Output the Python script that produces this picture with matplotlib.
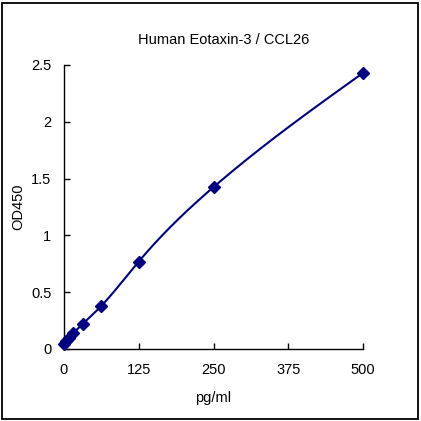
import numpy as np
import matplotlib
matplotlib.use("Agg")
import matplotlib.pyplot as plt
from matplotlib.patches import Rectangle

conc = [0, 3.9, 7.8, 15.6, 31.25, 62.5, 125, 250, 500]
od = [0.045, 0.07, 0.095, 0.14, 0.22, 0.38, 0.77, 1.425, 2.43]
xticks = [0, 125, 250, 375, 500]
yticks = [0, 0.5, 1, 1.5, 2, 2.5]
ytick_labels = ["0", "0.5", "1", "1.5", "2", "2.5"]
title = "Human Eotaxin-3 / CCL26"

plt.rcParams['font.family'] = ['Liberation Sans', 'DejaVu Sans']

def natural_spline(x, y, n=400):
    x = np.asarray(x, float); y = np.asarray(y, float)
    m = len(x)
    h = np.diff(x)
    A = np.zeros((m, m)); b = np.zeros(m)
    A[0, 0] = 1; A[-1, -1] = 1
    for i in range(1, m - 1):
        A[i, i - 1] = h[i - 1]; A[i, i] = 2 * (h[i - 1] + h[i]); A[i, i + 1] = h[i]
        b[i] = 3 * ((y[i + 1] - y[i]) / h[i] - (y[i] - y[i - 1]) / h[i - 1])
    c = np.linalg.solve(A, b)
    xs = np.linspace(x[0], x[-1], n)
    ys = np.empty_like(xs)
    for k, xv in enumerate(xs):
        i = min(np.searchsorted(x, xv, side='right') - 1, m - 2)
        d = xv - x[i]
        bi = (y[i + 1] - y[i]) / h[i] - h[i] * (2 * c[i] + c[i + 1]) / 3
        di = (c[i + 1] - c[i]) / (3 * h[i])
        ys[k] = y[i] + bi * d + c[i] * d ** 2 + di * d ** 3
    return xs, ys

fig = plt.figure(figsize=(4.21, 4.21), dpi=100)
fig.patches.append(Rectangle((0.004, 0.004), 0.990, 0.990, transform=fig.transFigure,
                             fill=False, edgecolor='black', linewidth=1.3))
ax = fig.add_axes([64 / 421, 1 - 349 / 421, (363 - 64) / 421, (349 - 65) / 421])

xs, ys = natural_spline(conc, od)
ax.plot(xs, ys, color='#000080', linewidth=1.5, zorder=2)
ax.plot(conc, od, linestyle='none', marker='D', markersize=6.5, color='#000080', zorder=3, clip_on=False)

ax.set_xlim(0, 500)
ax.set_ylim(0, 2.5)
ax.set_xticks(xticks)
ax.set_yticks(yticks)
ax.set_yticklabels(ytick_labels)
for s in ['top', 'right']:
    ax.spines[s].set_visible(False)
for s in ['left', 'bottom']:
    ax.spines[s].set_linewidth(1.0)
ax.tick_params(axis='x', direction='in', length=4, width=1, labelsize=10.5, pad=10)
ax.tick_params(axis='y', direction='in', length=4, width=1, labelsize=10.5, pad=9)
ax.set_xlabel('pg/ml', fontsize=10.5, labelpad=10)
ax.set_ylabel('OD450', fontsize=10.5, labelpad=4)
fig.text(224 / 421, 1 - 40 / 421, title, ha='center', va='center', fontsize=10.5)

fig.savefig('out.png', dpi=100)
